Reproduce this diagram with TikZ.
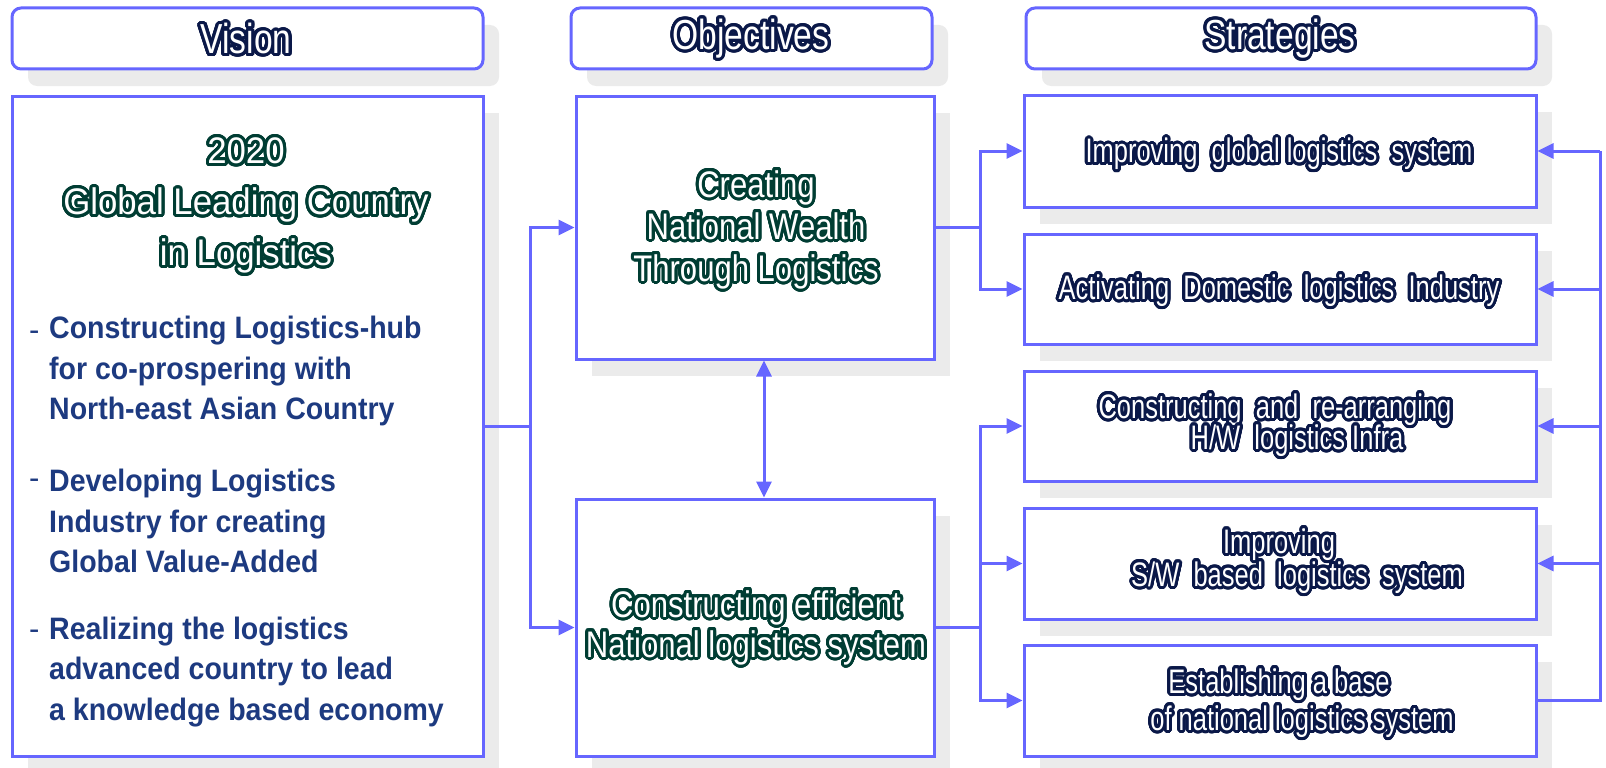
\documentclass[tikz,border=0pt]{standalone}
\usepackage{fontspec}
\setmainfont{Liberation Sans}
\usepackage{contour}
\contourlength{3pt}
\contournumber{32}
\usetikzlibrary{arrows.meta,shadows}
\newfontfamily\headfont[FakeStretch=0.80]{Liberation Sans}
\newfontfamily\titlefont[FakeStretch=0.94]{Liberation Sans}
\newfontfamily\objfont[FakeStretch=0.84]{Liberation Sans}
\newfontfamily\stratfont[FakeStretch=0.75]{Liberation Sans}
\newfontfamily\itemfont[FakeStretch=0.92]{Liberation Sans}
\definecolor{frame}{HTML}{6666FF}
\definecolor{shade}{HTML}{EBEBEB}
\definecolor{navyline}{HTML}{0A1848}
\definecolor{greenline}{HTML}{003D33}
\definecolor{itemblue}{HTML}{1D3A80}
\tikzset{
  box/.style={draw=frame, line width=3pt, fill=white, inner sep=0pt,
    general shadow={fill=shade, shadow xshift=16pt, shadow yshift=-17pt}},
  header/.style={box, rounded corners=9pt, minimum height=61pt},
  stratbox/.style={box, minimum width=512pt},
  objbox/.style={box, minimum width=358pt},
  link/.style={draw=frame, line width=3pt},
  arr/.style={link, -{Triangle[length=16pt,width=15pt]}},
  twoarr/.style={link, {Triangle[length=16pt,width=15pt]}-{Triangle[length=16pt,width=15pt]}},
  headtext/.style={text=white, inner sep=0pt, font=\headfont\fontsize{42}{48}\selectfont},
  strattext/.style={text=white, inner sep=0pt, font=\stratfont\fontsize{34}{40}\selectfont},
  objtext/.style={text=white, inner sep=0pt, align=center,
    font=\objfont\fontsize{37}{42}\selectfont},
  titletext/.style={text=white, inner sep=0pt, align=center,
    font=\titlefont\fontsize{37}{51}\selectfont},
  itemtext/.style={text=itemblue, inner sep=0pt, align=left, anchor=west,
    font=\itemfont\bfseries\fontsize{31}{40.5}\selectfont},
  dashtext/.style={text=itemblue, inner sep=0pt, anchor=base west,
    font=\fontsize{31}{40}\selectfont},
}
\newcommand{\navy}[1]{\contour{navyline}{#1}}
\newcommand{\grn}[1]{\contour{greenline}{#1}}
\begin{document}
\begin{tikzpicture}[x=1pt,y=-1pt]
\useasboundingbox[fill=white] (0,0) rectangle (1606,768);

% column headers
\node[header, minimum width=471pt] (hvision) at (247.5,38.5) {};
\node[header, minimum width=361pt] (hobj) at (751.5,38.5) {};
\node[header, minimum width=510pt] (hstrat) at (1281,38.5) {};
\node[headtext] (tvision) at (246,40) {\navy{Vision}};
\node[headtext] (tobj) at (751,40) {\navy{Objectives}};
\node[headtext] (tstrat) at (1280,40) {\navy{Strategies}};

% vision column
\node[box, minimum width=471pt, minimum height=660pt] (vision) at (247.5,426) {};
\node[titletext] (vtitle) at (246,207) {\grn{2020}\\\grn{Global Leading Country}\\\grn{in Logistics}};
\node[dashtext] (d1) at (29,340) {-};
\node[itemtext] (i1) at (49,371) {Constructing Logistics-hub\\for co-prospering with\\North-east Asian Country};
\node[dashtext] (d2) at (29,488) {-};
\node[itemtext] (i2) at (49,521) {Developing Logistics\\Industry for creating\\Global Value-Added};
\node[dashtext] (d3) at (29,639) {-};
\node[itemtext] (i3) at (49,672) {Realizing the logistics\\advanced country to lead\\a knowledge based economy};

% objectives column
\node[objbox, minimum height=263pt] (creating) at (755,227.5) {};
\node[objtext] (ctext) at (756,231) {\grn{Creating}\\\grn{National Wealth}\\\grn{Through Logistics}};
\node[objbox, minimum height=257pt] (efficient) at (755,627.5) {};
\node[objtext, font=\objfont\fontsize{37}{40}\selectfont] (etext) at (756,629) {\grn{Constructing efficient}\\\grn{National logistics system}};

% strategies column
\node[stratbox, minimum height=112pt] (s1) at (1280,151) {};
\node[stratbox, minimum height=110pt] (s2) at (1280,289) {};
\node[stratbox, minimum height=110pt] (s3) at (1280,426) {};
\node[stratbox, minimum height=111pt] (s4) at (1280,563.5) {};
\node[stratbox, minimum height=111pt] (s5) at (1280,700.5) {};
\node[strattext] (s1a) at (1279,155.5) {\navy{Improving\ \ global logistics\ \ system}};
\node[strattext] (s2a) at (1279,292) {\navy{Activating\ \ Domestic\ \ logistics\ \ Industry}};
\node[strattext] (s3a) at (1275,411) {\navy{Constructing\ \ and\ \ re-arranging}};
\node[strattext] (s3b) at (1297,442) {\navy{H/W\ \ logistics Infra}};
\node[strattext] (s4a) at (1279,546) {\navy{Improving}};
\node[strattext] (s4b) at (1297,579) {\navy{S/W\ \ based\ \ logistics\ \ system}};
\node[strattext] (s5a) at (1279,686) {\navy{Establishing a base}};
\node[strattext] (s5b) at (1302,723) {\navy{of national logistics system}};

% vision to objectives
\coordinate (vj) at (530,426);
\draw[link] (vision.east) -- (vj);
\draw[arr] (vj) |- (creating.west);
\draw[arr] (vj) |- (efficient.west);

% link between the two objectives
\coordinate (oj) at (764,0);
\draw[twoarr] (creating.south -| oj) -- (efficient.north -| oj);

% objectives to strategies
\coordinate (cj) at (980,227.5);
\draw[link] (creating.east) -- (cj);
\draw[arr] (cj) |- (s1.west);
\draw[arr] (cj) |- (s2.west);
\coordinate (ej) at (980,627.5);
\draw[link] (efficient.east) -- (ej);
\draw[arr] (ej) |- (s3.west);
\draw[arr] (ej) |- (s4.west);
\draw[arr] (ej) |- (s5.west);

% feedback from the base strategy
\coordinate (fj) at (1600,700.5);
\draw[link] (s5.east) -- (fj) -- (fj |- s1.east);
\draw[arr] (fj |- s1.east) -- (s1.east);
\draw[arr] (fj |- s2.east) -- (s2.east);
\draw[arr] (fj |- s3.east) -- (s3.east);
\draw[arr] (fj |- s4.east) -- (s4.east);
\end{tikzpicture}
\end{document}
